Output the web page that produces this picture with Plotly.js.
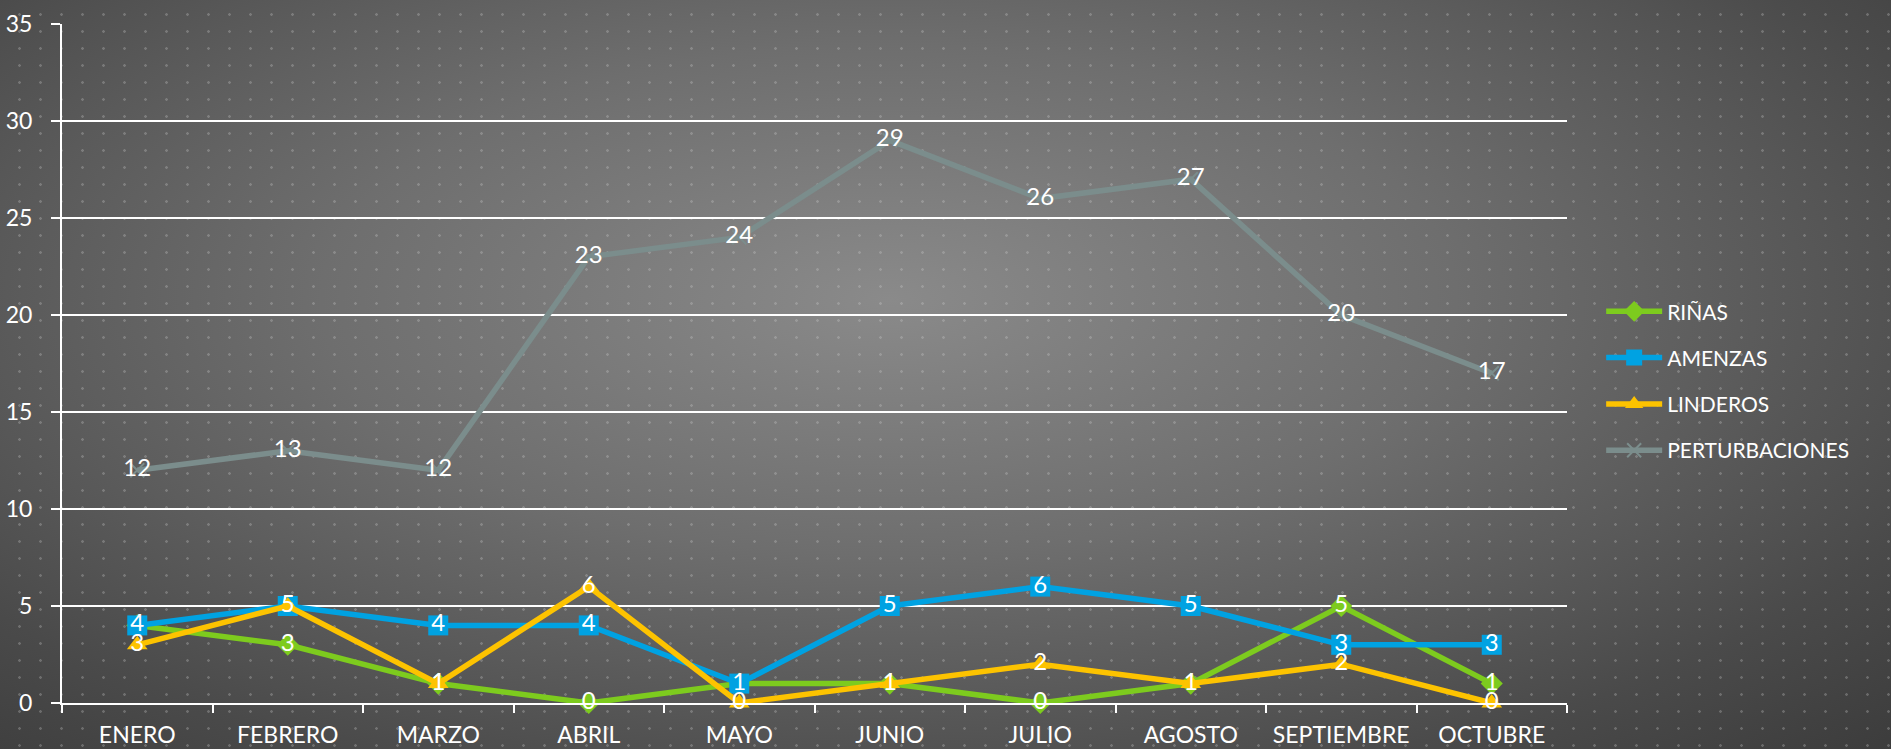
<!DOCTYPE html>
<html>
<head>
<meta charset="utf-8">
<script src="https://cdn.plot.ly/plotly-3.0.1.min.js"></script>
<style>
html,body{margin:0;padding:0;width:1891px;height:749px;overflow:hidden;}
body{
  background-image:
    radial-gradient(circle, rgba(210,210,210,0.28) 1px, rgba(0,0,0,0) 1.6px),
    radial-gradient(ellipse 75% 85% at 47% 40%, #8a8a8a 0%, #6e6e6e 40%, #4a4a4a 80%, #3c3c3c 100%);
  background-size: 21px 17px, 100% 100%;
  background-position: 9px 6px, 0 0;
}
#chart{width:1891px;height:749px;}
</style>
</head>
<body>
<div id="chart"></div>
<script>
const months = ["ENERO","FEBRERO","MARZO","ABRIL","MAYO","JUNIO","JULIO","AGOSTO","SEPTIEMBRE","OCTUBRE"];
const rinas = [4,3,1,0,1,1,0,1,5,1];
const amenzas = [4,5,4,4,1,5,6,5,3,3];
const linderos = [3,5,1,6,0,1,2,1,2,0];
const perturbaciones = [12,13,12,23,24,29,26,27,20,17];

const FONT = "Lato, 'Open Sans', sans-serif";

function tr(name, y, color, symbol, size, group){
  return {
    type: "scatter", mode: "lines+markers+text", name: name, x: months, y: y,
    line: {color: color, width: 5.5},
    marker: {symbol: symbol, size: size, color: color, line: {color: color, width: symbol.indexOf("x") === 0 ? 2 : 0}},
    text: y.map(String), textposition: "middle center",
    textfont: {family: FONT, size: 24, color: "#ffffff"},
    cliponaxis: false, legendgroup: group, hoverinfo: "skip"
  };
}

const data = [
  tr("RIÑAS", rinas, "#7DCB1E", "diamond", 17, "a"),
  tr("AMENZAS", amenzas, "#00A2E2", "square", 20, "b"),
  tr("LINDEROS", linderos, "#FDC300", "triangle-up", 18, "c"),
  tr("PERTURBACIONES", perturbaciones, "#7B8D8C", "x-thin", 14, "d")
];

const layout = {
  width: 1891, height: 749,
  margin: {l: 62, r: 324, t: 24, b: 46},
  paper_bgcolor: "rgba(0,0,0,0)", plot_bgcolor: "rgba(0,0,0,0)",
  font: {family: FONT, color: "#ffffff"},
  showlegend: true,
  legend: {x: 1.0227, xanchor: "left", y: 0.474, yanchor: "middle",
    font: {family: FONT, size: 21, color: "#ffffff"},
    traceorder: "grouped", tracegroupgap: 16, itemwidth: 56, bgcolor: "rgba(0,0,0,0)"},
  xaxis: {
    type: "category", range: [-0.5, 9.5], tickson: "boundaries",
    ticks: "outside", ticklen: 8, tickwidth: 2, tickcolor: "#ffffff",
    showline: true, linecolor: "#ffffff", linewidth: 2, showgrid: false, zeroline: false,
    tickfont: {family: FONT, size: 23, color: "#ffffff"}, ticklabelstandoff: 10
  },
  yaxis: {
    range: [0, 35], dtick: 5, tick0: 0,
    ticks: "outside", ticklen: 9, tickwidth: 2, tickcolor: "#ffffff",
    showline: true, linecolor: "#ffffff", linewidth: 2,
    showgrid: true, gridcolor: "#ffffff", gridwidth: 2, zeroline: false,
    tickfont: {family: FONT, size: 23, color: "#ffffff"}, ticklabelstandoff: 14
  }
};

Plotly.newPlot("chart", data, layout, {displayModeBar: false, staticPlot: true});
</script>
</body>
</html>
